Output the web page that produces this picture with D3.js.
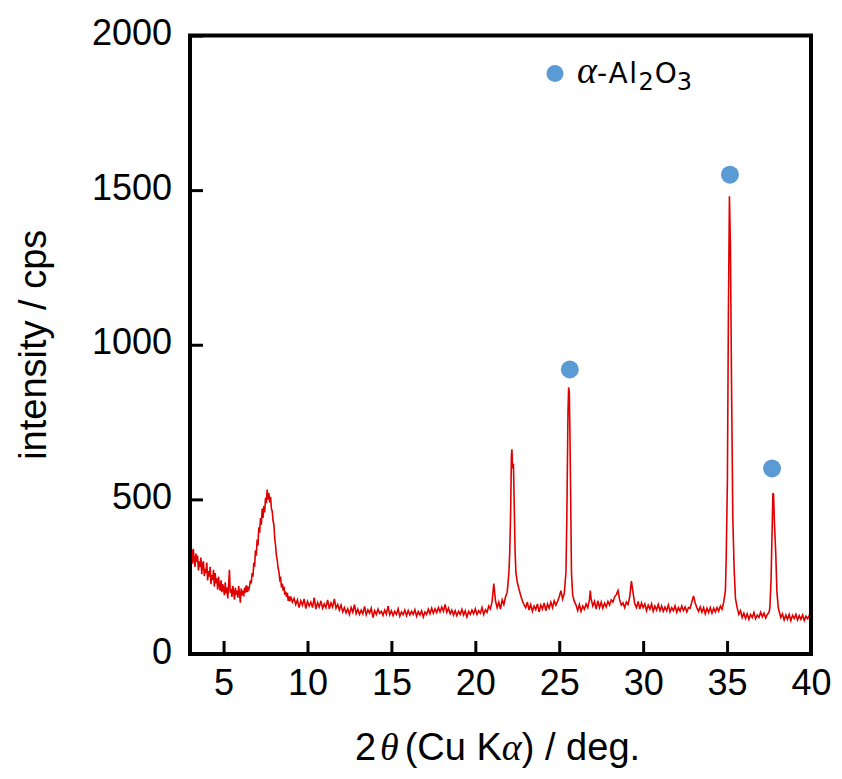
<!DOCTYPE html>
<html><head><meta charset="utf-8">
<script src="https://cdn.jsdelivr.net/npm/d3@7"></script>
<style>body{margin:0;background:#fff}</style>
</head><body>
<svg id="chart" width="842" height="779"></svg>
<script>
// ---- data ----
const xTicks = [5, 10, 15, 20, 25, 30, 35, 40];
const yTicks = [0, 500, 1000, 1500, 2000];
const xDomain = [3, 40];
const yDomain = [0, 2000];

// [2theta (deg), intensity (cps)]
const pattern = [
[3.0,352],[3.05,318],[3.1,336],[3.15,292],[3.2,340],[3.25,305],[3.3,282],[3.35,325],[3.4,298],[3.45,318],
[3.5,270],[3.55,300],[3.6,282],[3.65,312],[3.7,258],[3.75,290],[3.8,300],[3.85,252],[3.9,275],[3.95,262],
[4.0,296],[4.05,238],[4.1,268],[4.15,250],[4.2,282],[4.25,226],[4.3,255],[4.35,240],[4.4,272],[4.45,218],
[4.5,262],[4.55,228],[4.6,245],[4.65,208],[4.7,250],[4.75,222],[4.8,205],[4.85,238],[4.9,200],[4.95,226],
[5.0,212],[5.05,190],[5.1,232],[5.15,196],[5.2,215],[5.25,180],[5.3,222],[5.35,272],[5.4,198],[5.45,210],
[5.5,185],[5.55,220],[5.6,200],[5.65,176],[5.7,214],[5.75,192],[5.8,205],[5.85,182],[5.9,220],[5.95,195],
[6.0,166],[6.05,212],[6.1,190],[6.15,205],[6.2,186],[6.25,215],[6.3,198],[6.35,222],[6.4,200],[6.45,214],
[6.5,208],[6.55,220],[6.6,238],[6.65,228],[6.7,262],[6.75,250],[6.8,295],[6.85,282],[6.9,335],[6.95,318],
[7.0,370],[7.05,350],[7.1,410],[7.15,392],[7.2,440],[7.25,418],[7.3,470],[7.35,440],[7.4,478],[7.45,458],
[7.5,505],[7.55,488],[7.6,532],[7.65,500],[7.7,520],[7.75,490],[7.8,508],[7.85,470],[7.9,462],[7.95,430],
[8.0,418],[8.05,372],[8.1,350],[8.15,318],[8.2,302],[8.25,278],[8.3,265],[8.35,240],[8.4,245],[8.45,215],
[8.5,228],[8.55,205],[8.6,218],[8.65,192],[8.7,202],[8.75,185],[8.8,198],[8.85,172],[8.9,186],[8.95,170],
[9.0,186],[9.1,168],[9.2,180],[9.3,160],[9.4,175],[9.5,150],[9.6,172],[9.7,158],[9.8,178],[9.9,147],
[10.0,170],[10.1,155],[10.2,168],[10.3,150],[10.4,182],[10.5,145],[10.6,166],[10.7,152],[10.8,172],[10.9,148],
[11.0,162],[11.1,150],[11.2,175],[11.3,146],[11.4,165],[11.5,152],[11.6,178],[11.7,148],[11.8,160],[11.9,142],
[12.0,158],[12.1,136],[12.2,150],[12.3,133],[12.4,146],[12.5,128],[12.6,150],[12.7,135],[12.8,160],[12.9,130],
[13.0,145],[13.1,128],[13.2,142],[13.3,130],[13.4,154],[13.5,127],[13.6,143],[13.7,132],[13.8,148],[13.9,118],
[14.0,140],[14.1,128],[14.2,145],[14.3,131],[14.4,138],[14.5,125],[14.6,142],[14.7,129],[14.8,155],[14.9,127],
[15.0,140],[15.1,124],[15.2,138],[15.3,128],[15.4,146],[15.5,122],[15.6,136],[15.7,127],[15.8,142],[15.9,124],
[16.0,140],[16.1,126],[16.2,138],[16.3,128],[16.4,143],[16.5,122],[16.6,137],[16.7,126],[16.8,140],[16.9,120],
[17.0,136],[17.1,128],[17.2,145],[17.3,130],[17.4,148],[17.5,132],[17.6,146],[17.7,134],[17.8,150],[17.9,136],
[18.0,152],[18.1,138],[18.2,160],[18.3,135],[18.4,148],[18.5,130],[18.6,142],[18.7,126],[18.8,140],[18.9,124],
[19.0,138],[19.1,128],[19.2,144],[19.3,126],[19.4,140],[19.5,120],[19.6,138],[19.7,128],[19.8,142],[19.9,130],
[20.0,146],[20.1,128],[20.2,140],[20.3,132],[20.4,150],[20.5,128],[20.6,143],[20.7,135],[20.8,155],[20.9,146],
[21.0,170],[21.1,228],[21.2,172],[21.3,150],[21.4,168],[21.5,145],[21.6,175],[21.7,160],[21.8,185],[21.9,200],
[22.0,262],[22.05,330],[22.1,445],[22.15,640],[22.18,662],[22.22,600],[22.27,615],[22.32,480],[22.37,330],[22.42,262],
[22.5,232],[22.6,210],[22.7,190],[22.8,172],[22.9,160],[23.0,150],[23.1,168],[23.2,142],[23.3,160],[23.4,138],
[23.5,155],[23.6,144],[23.7,162],[23.8,136],[23.9,158],[24.0,145],[24.1,165],[24.2,140],[24.3,162],[24.4,148],
[24.5,168],[24.6,150],[24.7,172],[24.8,158],[24.9,170],[25.0,185],[25.1,205],[25.2,178],[25.3,195],[25.35,230],
[25.4,265],[25.45,430],[25.52,780],[25.56,862],[25.6,845],[25.64,700],[25.68,510],[25.73,262],[25.8,190],[25.9,170],
[26.0,158],[26.1,140],[26.2,160],[26.3,138],[26.4,155],[26.5,145],[26.6,162],[26.7,150],[26.8,175],[26.85,205],
[26.9,178],[27.0,155],[27.1,170],[27.2,145],[27.3,172],[27.4,150],[27.5,168],[27.6,148],[27.7,165],[27.8,152],
[27.9,170],[28.0,158],[28.1,175],[28.2,168],[28.3,185],[28.4,192],[28.5,205],[28.6,175],[28.7,158],[28.8,165],
[28.9,150],[29.0,168],[29.1,160],[29.2,185],[29.3,236],[29.4,198],[29.5,162],[29.6,150],[29.7,170],[29.8,145],
[29.9,165],[30.0,150],[30.1,162],[30.2,140],[30.3,158],[30.4,145],[30.5,162],[30.6,138],[30.7,155],[30.8,142],
[30.9,160],[31.0,140],[31.1,155],[31.2,138],[31.3,152],[31.4,140],[31.5,158],[31.6,136],[31.7,150],[31.8,140],
[31.9,156],[32.0,135],[32.1,150],[32.2,138],[32.3,155],[32.4,140],[32.5,152],[32.6,136],[32.7,150],[32.8,148],
[32.9,168],[33.0,188],[33.1,165],[33.2,150],[33.3,138],[33.4,152],[33.5,135],[33.6,150],[33.7,130],[33.8,148],
[33.9,134],[34.0,150],[34.1,132],[34.2,148],[34.3,136],[34.4,150],[34.5,138],[34.6,155],[34.7,145],[34.8,168],
[34.9,205],[34.95,315],[35.02,565],[35.08,1110],[35.14,1480],[35.17,1400],[35.2,1320],[35.26,905],[35.34,445],[35.42,275],
[35.5,180],[35.6,150],[35.7,128],[35.8,140],[35.9,118],[36.0,132],[36.1,115],[36.2,130],[36.3,112],[36.4,128],
[36.5,118],[36.6,134],[36.7,114],[36.8,126],[36.9,118],[37.0,135],[37.1,120],[37.2,132],[37.3,116],[37.4,128],
[37.5,135],[37.55,150],[37.62,240],[37.68,390],[37.73,520],[37.77,515],[37.82,425],[37.9,325],[37.97,200],[38.05,150],
[38.1,138],[38.2,118],[38.3,130],[38.4,110],[38.5,126],[38.6,112],[38.7,128],[38.8,108],[38.9,125],[39.0,115],
[39.1,128],[39.2,110],[39.3,124],[39.4,112],[39.5,126],[39.6,108],[39.7,122],[39.8,114],[39.9,125],[40.0,118]
];

// alpha-Al2O3 peak markers [2theta, cps]
const peakMarks = [[25.63, 920], [35.17, 1550], [37.68, 600]];

// ---- drawing ----
const svg = d3.select("#chart");
const font = "'Liberation Sans', Arial, sans-serif";
const serif = "'Liberation Serif', 'DejaVu Serif', serif";
const L = 190, R = 811, T = 35.5, B = 654;

const x = d3.scaleLinear().domain(xDomain).range([L, R]);
const y = d3.scaleLinear().domain(yDomain).range([B, T]);

svg.append("defs").append("clipPath").attr("id", "clip")
  .append("rect").attr("x", L).attr("y", T).attr("width", R - L).attr("height", B - T);

// trace
svg.append("path")
  .datum(pattern)
  .attr("clip-path", "url(#clip)")
  .attr("fill", "none")
  .attr("stroke", "#e00000")
  .attr("stroke-width", 1.6)
  .attr("stroke-linejoin", "miter")
  .attr("d", d3.line().x(d => x(d[0])).y(d => y(d[1])));

// markers
svg.append("g").selectAll("circle").data(peakMarks).join("circle")
  .attr("cx", d => x(d[0])).attr("cy", d => y(d[1])).attr("r", 9)
  .attr("fill", "#5b9bd5");

// axes
const gx = svg.append("g").attr("transform", `translate(0,${B})`)
  .call(d3.axisBottom(x).tickValues(xTicks).tickSize(-13).tickFormat(d3.format("d")));
gx.select(".domain").remove();
gx.selectAll(".tick line").attr("stroke", "#000").attr("stroke-width", 3);
gx.selectAll(".tick text").attr("y", 41).attr("dy", null)
  .attr("font-family", font).attr("font-size", 36).attr("fill", "#000");

const gy = svg.append("g").attr("transform", `translate(${L},0)`)
  .call(d3.axisLeft(y).tickValues(yTicks).tickSize(-13).tickFormat(d3.format("d")));
gy.select(".domain").remove();
gy.selectAll(".tick line").attr("stroke", "#000").attr("stroke-width", 3);
gy.selectAll(".tick text").attr("x", -18).attr("y", 9).attr("dy", null)
  .attr("font-family", font).attr("font-size", 36).attr("fill", "#000");

// frame
svg.append("rect").attr("x", L).attr("y", T).attr("width", R - L).attr("height", B - T)
  .attr("fill", "none").attr("stroke", "#000").attr("stroke-width", 4);

// axis titles
const xt = svg.append("text").attr("x", (L + R) / 2 - 3).attr("y", 760)
  .attr("text-anchor", "middle").attr("font-family", font).attr("font-size", 38).attr("fill", "#000");
xt.append("tspan").text("2");
xt.append("tspan").attr("dx", 4).attr("font-family", serif).attr("font-style", "italic").text("θ");
xt.append("tspan").attr("dx", 6).text("(Cu K");
xt.append("tspan").attr("font-family", serif).attr("font-style", "italic").text("α");
xt.append("tspan").text(") / deg.");

svg.append("text")
  .attr("transform", `translate(46,${(T + B) / 2}) rotate(-90)`)
  .attr("text-anchor", "middle").attr("font-family", font).attr("font-size", 38).attr("fill", "#000")
  .text("intensity / cps");

// legend
svg.append("circle").attr("cx", 555).attr("cy", 73.5).attr("r", 8.5).attr("fill", "#5b9bd5");
const lg = svg.append("text").attr("x", 577).attr("y", 83)
  .attr("font-family", "'DejaVu Sans', sans-serif").attr("font-size", 28).attr("fill", "#000");
lg.append("tspan").attr("font-family", serif).attr("font-style", "italic").attr("font-size", 38).text("α");
lg.append("tspan").attr("letter-spacing", 1.5).text("-Al");
lg.append("tspan").attr("dy", 7).attr("font-size", 24).text("2");
lg.append("tspan").attr("dy", -7).attr("dx", 1).text("O");
lg.append("tspan").attr("dy", 7).attr("font-size", 24).text("3");
</script>
</body></html>
